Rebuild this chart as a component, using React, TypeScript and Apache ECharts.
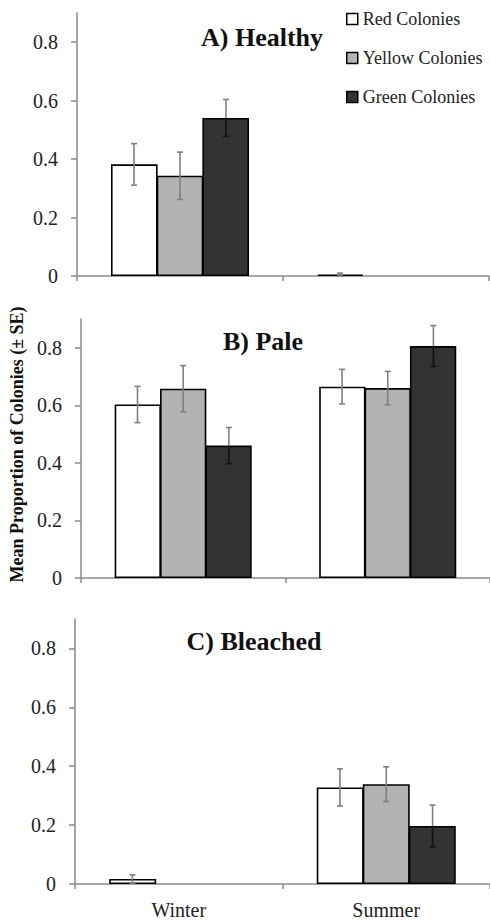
import React, { useEffect, useRef } from "react";
import * as echarts from "echarts";

const categories = ["Winter", "Summer"];
const seriesNames = ["Red Colonies", "Yellow Colonies", "Green Colonies"];
const yTicks = [0, 0.2, 0.4, 0.6, 0.8];

// A) Healthy
const healthyRed = [0.382, 0.005];
const healthyRedSE = [0.071, 0.005];
const healthyYellow = [0.343, 0];
const healthyYellowSE = [0.081, 0];
const healthyGreen = [0.541, 0];
const healthyGreenSE = [0.063, 0];

// B) Pale
const paleRed = [0.603, 0.665];
const paleRedSE = [0.063, 0.06];
const paleYellow = [0.658, 0.66];
const paleYellowSE = [0.08, 0.058];
const paleGreen = [0.46, 0.806];
const paleGreenSE = [0.063, 0.071];

// C) Bleached
const bleachedRed = [0.017, 0.328];
const bleachedRedSE = [0.014, 0.063];
const bleachedYellow = [0, 0.339];
const bleachedYellowSE = [0, 0.059];
const bleachedGreen = [0, 0.197];
const bleachedGreenSE = [0, 0.071];

const panelTitles = ["A) Healthy", "B) Pale", "C) Bleached"];

const FONT = "'Liberation Serif', 'Times New Roman', Times, serif";
const fills = ["#ffffff", "#b3b3b3", "#333333"];
const errUpper = ["#808080", "#808080", "#808080"];
const errLower = ["#808080", "#808080", "#111111"];

const panels = [
  { vals: [healthyRed, healthyYellow, healthyGreen], se: [healthyRedSE, healthyYellowSE, healthyGreenSE] },
  { vals: [paleRed, paleYellow, paleGreen], se: [paleRedSE, paleYellowSE, paleGreenSE] },
  { vals: [bleachedRed, bleachedYellow, bleachedGreen], se: [bleachedRedSE, bleachedYellowSE, bleachedGreenSE] },
];

const grids = [
  { left: 77, top: 13, width: 412, height: 263 },
  { left: 78, top: 319, width: 418, height: 259 },
  { left: 75, top: 619, width: 420, height: 265 },
];

const GROUP_FRACTION = 0.67;

export default function App() {
  const ref = useRef<HTMLDivElement>(null);
  useEffect(() => {
    if (!ref.current) return;
    const chart = echarts.init(ref.current, null, { renderer: "svg" });

    const xAxis: any[] = [];
    const yAxis: any[] = [];
    const series: any[] = [];

    panels.forEach((p, gi) => {
      xAxis.push({
        type: "category",
        gridIndex: gi,
        data: categories,
        axisLine: { lineStyle: { color: "#8a8a8a", width: 1.5 } },
        axisTick: { show: true, length: 5, lineStyle: { color: "#8a8a8a", width: 1.5 } },
        axisLabel: {
          show: gi === 2,
          fontFamily: FONT,
          fontSize: 20,
          color: "#222",
          margin: 16,
        },
        splitLine: { show: false },
      });
      yAxis.push({
        type: "value",
        gridIndex: gi,
        min: 0,
        max: 0.9,
        interval: 0.2,
        axisLine: { show: true, lineStyle: { color: "#8a8a8a", width: 1.5 } },
        axisTick: { show: true, length: 6, customValues: yTicks, lineStyle: { color: "#8a8a8a", width: 1.5 } },
        axisLabel: {
          customValues: yTicks,
          fontFamily: FONT,
          fontSize: 20,
          color: "#222",
          margin: 19,
          formatter: (v: number) => (v === 0 ? "0" : String(v)),
        },
        splitLine: { show: false },
        name: gi === 1 ? "Mean Proportion of Colonies (± SE)" : "",
        nameLocation: "middle",
        nameGap: 52,
        nameTextStyle: { fontFamily: FONT, fontWeight: "bold", fontSize: 18, color: "#111", padding: [0, 0, 0, 8] },
      });

      p.vals.forEach((vals, si) => {
        series.push({
          type: "bar",
          name: seriesNames[si],
          xAxisIndex: gi,
          yAxisIndex: gi,
          data: vals.map((v) => (v > 0 ? v : null)),
          barGap: "-2%",
          barCategoryGap: "33%",
          itemStyle: { color: fills[si], borderColor: "#000", borderWidth: 1.6 },
          z: 2,
        });
      });
      p.vals.forEach((vals, si) => {
        const seArr = p.se[si];
        series.push({
          type: "custom",
          name: seriesNames[si],
          xAxisIndex: gi,
          yAxisIndex: gi,
          z: 5,
          silent: true,
          data: vals.map((v, ci) => [ci, v, seArr[ci]]),
          renderItem: (params: any, api: any) => {
            const ci = api.value(0);
            const v = api.value(1);
            const se = api.value(2);
            if (!(se > 0)) return null;
            const band = api.size([1, 0])[0];
            const off = ((si - 1) * band * GROUP_FRACTION) / 3;
            const mid = api.coord([ci, v]);
            const x = mid[0] + off;
            const yTop = api.coord([ci, v + se])[1];
            const yBot = api.coord([ci, Math.max(0, v - se)])[1];
            const yMid = mid[1];
            const cap = 3;
            return {
              type: "group",
              children: [
                { type: "line", shape: { x1: x, y1: yTop, x2: x, y2: yMid }, style: { stroke: errUpper[si], lineWidth: 1.6 } },
                { type: "line", shape: { x1: x, y1: yMid, x2: x, y2: yBot }, style: { stroke: errLower[si], lineWidth: 1.6 } },
                { type: "line", shape: { x1: x - cap, y1: yTop, x2: x + cap, y2: yTop }, style: { stroke: errUpper[si], lineWidth: 1.6 } },
                { type: "line", shape: { x1: x - cap, y1: yBot, x2: x + cap, y2: yBot }, style: { stroke: errLower[si], lineWidth: 1.6 } },
              ],
            };
          },
        });
      });
    });

    const titlePos = [
      { x: 262, y: 37 },
      { x: 263, y: 341 },
      { x: 254, y: 641 },
    ];

    chart.setOption({
      animation: false,
      backgroundColor: "#ffffff",
      grid: grids.map((g) => ({ ...g, containLabel: false })),
      xAxis,
      yAxis,
      legend: {
        data: seriesNames,
        orient: "vertical",
        left: 341,
        top: 5,
        itemWidth: 11,
        itemHeight: 11,
        itemGap: 21,
        icon: "rect",
        itemStyle: { borderColor: "#000", borderWidth: 1.5 },
        textStyle: { fontFamily: FONT, fontSize: 18, color: "#222" },
        selectedMode: false,
      },
      graphic: panelTitles.map((t, i) => ({
        type: "text",
        x: titlePos[i].x,
        y: titlePos[i].y,
        style: {
          text: t,
          fontFamily: FONT,
          fontWeight: "bold",
          fontSize: 26,
          fill: "#111",
          align: "center",
          verticalAlign: "middle",
        },
        z: 10,
      })),
      series,
    });

    return () => chart.dispose();
  }, []);

  return (
    <div
      ref={ref}
      style={{ position: "fixed", left: 0, top: 0, width: 490, height: 920, background: "#fff" }}
    />
  );
}
